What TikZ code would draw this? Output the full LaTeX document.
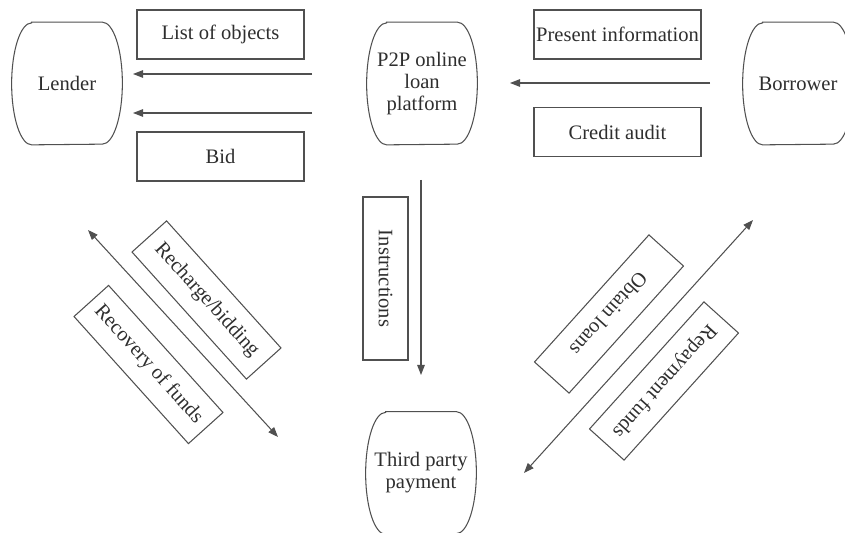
\documentclass[tikz,border=0pt]{standalone}
\usepackage{fontspec}
\setmainfont{Liberation Serif}
\usetikzlibrary{arrows.meta, positioning}
\definecolor{linecol}{HTML}{505050}
\definecolor{textcol}{HTML}{2e2e2e}

\begin{document}
\begin{tikzpicture}[
  x=0.2mm, y=0.2mm,
  font=\fontsize{11.7}{12.6}\selectfont,
  party/.style={
    minimum width=22mm, minimum height=24.4mm, inner sep=0pt,
    align=center, text=textcol
  },
  block/.style={
    rectangle, draw=linecol, line width=0.6pt, text=textcol,
    minimum width=33.4mm, minimum height=9.8mm, inner sep=0pt
  },
  tilted/.style={block, minimum width=34.2mm, minimum height=9.3mm},
  arrow/.style={-{Triangle[length=2mm, width=1.5mm]}, line width=0.6pt, color=linecol},
  twoway/.style={arrow, {Triangle[length=2mm, width=1.5mm]}-{Triangle[length=2mm, width=1.5mm]}},
]
  \useasboundingbox (0,0) rectangle (845,533);

  % the four parties
  \node[party] (lender)   at (67,449.5)  {Lender};
  \node[party] (platform) at (422,449.5) {P2P online\\loan\\platform};
  \node[party] (borrower) at (798,449.5) {Borrower};
  \node[party] (payment)  at (421,60)    {Third party\\payment};

  % flat top and bottom, bulging sides
  \foreach \n in {lender,platform,borrower,payment}
    \draw[linecol, line width=0.6pt]
      ([xshift=4mm]\n.north west) -- ([xshift=-4mm]\n.north east)
      arc[start angle=90, end angle=-90, x radius=4mm, y radius=12.2mm]
      -- ([xshift=4mm]\n.south west)
      arc[start angle=270, end angle=90, x radius=4mm, y radius=12.2mm] -- cycle;

  % labels
  \node[block] (objects) at (220.5,498.5) {List of objects};
  \node[block] (bid)     at (220.5,376.5) {Bid};
  \node[block] (present) at (617.5,498.5) {Present information};
  \node[block] (credit)  at (617.5,401)   {Credit audit};
  \node[block, minimum width=32.6mm, minimum height=9mm, rotate=-90]
    (instr) at (385.5,254.5) {Instructions};
  \node[tilted, rotate=-48] (recharge) at (206.5,233)   {Recharge/bidding};
  \node[tilted, rotate=-48] (recovery) at (148.5,168.5) {Recovery of funds};
  \node[tilted, rotate=228] (obtain)   at (609,219)     {Obtain loans};
  \node[tilted, rotate=228] (repay)    at (664,152)     {Repayment funds};

  % free arrow ends
  \coordinate (listR)  at (312,459);
  \coordinate (listL)  at (133,459);
  \coordinate (bidR)   at (312,420);
  \coordinate (bidL)   at (133,420);
  \coordinate (infoR)  at (710,450);
  \coordinate (infoL)  at (510,450);
  \coordinate (instrT) at (421,353);
  \coordinate (instrB) at (421,158);
  \coordinate (fundsT) at (88,303);
  \coordinate (fundsB) at (278,96);
  \coordinate (loansT) at (753,313);
  \coordinate (loansB) at (524,60);

  \draw[arrow]  (listR)  -- (listL);
  \draw[arrow]  (bidR)   -- (bidL);
  \draw[arrow]  (infoR)  -- (infoL);
  \draw[arrow]  (instrT) -- (instrB);
  \draw[twoway] (fundsT) -- (fundsB);
  \draw[twoway] (loansB) -- (loansT);
\end{tikzpicture}
\end{document}
